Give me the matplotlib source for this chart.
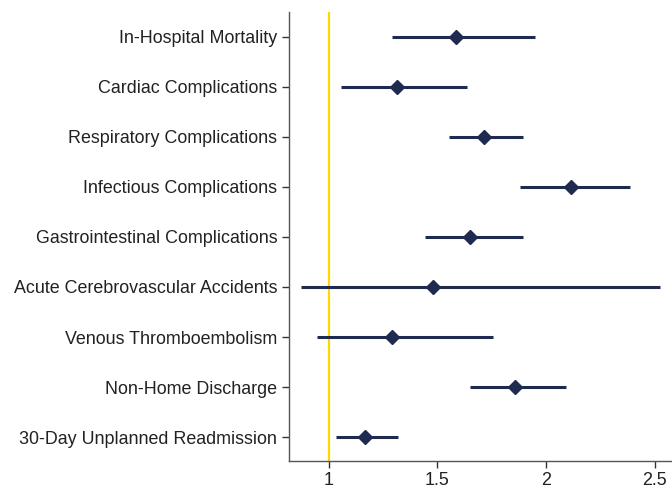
import matplotlib
matplotlib.use("Agg")
import matplotlib.pyplot as plt

outcomes = [
    "In-Hospital Mortality",
    "Cardiac Complications",
    "Respiratory Complications",
    "Infectious Complications",
    "Gastrointestinal Complications",
    "Acute Cerebrovascular Accidents",
    "Venous Thromboembolism",
    "Non-Home Discharge",
    "30-Day Unplanned Readmission",
]
odds_ratio = [1.587, 1.312, 1.717, 2.116, 1.652, 1.481, 1.289, 1.859, 1.169]
ci_low = [1.292, 1.055, 1.553, 1.881, 1.443, 0.871, 0.945, 1.650, 1.034]
ci_high = [1.950, 1.637, 1.895, 2.388, 1.895, 2.527, 1.755, 2.093, 1.317]
x_ticks = [1, 1.5, 2, 2.5]

plt.rcParams['font.family'] = ['Liberation Sans', 'DejaVu Sans']

navy = '#1f2a50'
fig, ax = plt.subplots(figsize=(6.72, 4.9), dpi=100)
fig.subplots_adjust(left=0.43, right=1.0, top=0.975, bottom=0.06)

ypos = list(range(len(outcomes), 0, -1))

ax.axvline(1, color='#ffd700', lw=1.6, zorder=1)
ax.hlines(ypos, ci_low, ci_high, color=navy, lw=2.2, zorder=2)
ax.plot(odds_ratio, ypos, linestyle='none', marker='D', markersize=7.5,
        color=navy, zorder=3)

ax.set_yticks(ypos)
ax.set_yticklabels(outcomes)
ax.set_xticks(x_ticks)
ax.set_xticklabels(['1', '1.5', '2', '2.5'])
ax.set_xlim(0.817, 2.58)
ax.set_ylim(0.53, 9.49)

for side in ['top', 'right']:
    ax.spines[side].set_visible(False)
for side in ['left', 'bottom']:
    ax.spines[side].set_color('#555555')
    ax.spines[side].set_linewidth(1.0)
ax.tick_params(axis='both', colors='#333333', labelcolor='#222222',
               labelsize=12.9, length=5, width=1)

fig.savefig('out.png', dpi=100, facecolor='white')
